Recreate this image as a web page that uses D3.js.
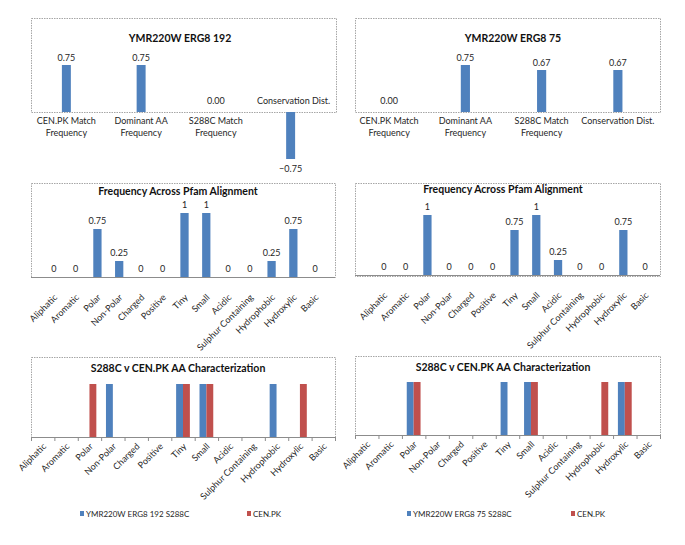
<!DOCTYPE html>
<html lang="en">
<head>
  <meta charset="UTF-8">
  <title>YMR220W ERG8 characterization</title>
  <script src="https://d3js.org/d3.v7.min.js"></script>
  <style>
    body { margin: 0; background: #fff; }
    svg { font-family: Lato, "Open Sans", sans-serif; }
    .box { fill: none; stroke: #a6a6a6; stroke-width: 1; stroke-dasharray: 1.5,1; }
    .axis-line { stroke: #8c8c8c; stroke-width: 1; }
    .title { font-weight: bold; font-size: 10.5px; fill: #111; text-anchor: middle; }
    .val { font-size: 9px; fill: #262626; text-anchor: middle; }
    .cat { font-size: 9px; fill: #262626; }
  </style>
</head>
<body>
  <svg id="chart" width="685" height="545"></svg>
  <script>
    // summary metrics (top row)
    const summaryCats = ["CEN.PK Match Frequency", "Dominant AA Frequency", "S288C Match Frequency", "Conservation Dist."];
    const summaryLines = [["CEN.PK Match", "Frequency"], ["Dominant AA", "Frequency"], ["S288C Match", "Frequency"], ["Conservation Dist."]];
    const summary192 = [0.75, 0.75, 0.00, -0.75];
    const summary75 = [0.00, 0.75, 0.67, 0.67];

    // amino acid classes (middle and bottom rows)
    const aaClasses = ["Aliphatic", "Aromatic", "Polar", "Non-Polar", "Charged", "Positive", "Tiny", "Small",
      "Acidic", "Sulphur Containing", "Hydrophobic", "Hydroxylic", "Basic"];
    const pfam192 = [0, 0, 0.75, 0.25, 0, 0, 1, 1, 0, 0, 0.25, 0.75, 0];
    const pfam75 = [0, 0, 1, 0, 0, 0, 0.75, 1, 0.25, 0, 0, 0.75, 0];

    const s288c192 = [0, 0, 0, 1, 0, 0, 1, 1, 0, 0, 1, 0, 0];
    const cenpk192 = [0, 0, 1, 0, 0, 0, 1, 1, 0, 0, 0, 1, 0];
    const s288c75 = [0, 0, 1, 0, 0, 0, 1, 1, 0, 0, 0, 1, 0];
    const cenpk75 = [0, 0, 1, 0, 0, 0, 0, 1, 0, 0, 1, 1, 0];

    const blue = "#4f81bd", red = "#c0504d";
    const svg = d3.select("#chart");

    function drawBox(b) {
      svg.append("rect").attr("class", "box")
        .attr("x", b[0] + 0.5).attr("y", b[1] + 0.5)
        .attr("width", b[2] - b[0]).attr("height", b[3] - b[1]);
    }

    // top row: 4 metrics, labels wrap below the axis
    function summaryChart(opt) {
      drawBox(opt.box);
      const x = d3.scaleBand().domain(summaryCats).range(opt.xr).paddingInner(0.88).paddingOuter(0.44);
      const y = d3.scaleLinear().domain([0, 0.75]).range([opt.zero, opt.zero - 47]);
      const g = svg.append("g");
      svg.append("text").attr("class", "title").attr("x", opt.titleX).attr("y", opt.box[1] + 24).text(opt.title);

      g.selectAll("rect").data(opt.values).join("rect")
        .attr("x", (d, i) => x(summaryCats[i]))
        .attr("width", x.bandwidth())
        .attr("y", d => Math.min(y(d), y(0)))
        .attr("height", d => Math.abs(y(d) - y(0)))
        .attr("fill", blue);

      g.selectAll("text.val").data(opt.values).join("text").attr("class", "val")
        .attr("x", (d, i) => x(summaryCats[i]) + x.bandwidth() / 2)
        .attr("y", d => d > 0 ? y(d) - 4 : d < 0 ? y(d) + 13 : y(0) - 8)
        .text(d => d3.format(".2f")(d));

      summaryCats.forEach((c, i) => {
        const neg = opt.values[i] < 0;
        const cx = x(c) + x.bandwidth() / 2 + (neg ? 3 : 0);
        const t = svg.append("text").attr("class", "cat").attr("text-anchor", "middle")
          .attr("x", cx)
          .attr("y", neg ? opt.zero - 8 : opt.zero + 12);
        summaryLines[i].forEach((ln, j) => t.append("tspan")
          .attr("x", cx).attr("dy", j ? 12 : 0).text(ln));
      });
    }

    // middle row: single series with value labels
    function pfamChart(opt) {
      drawBox(opt.box);
      const x = d3.scaleBand().domain(aaClasses).range(opt.xr).paddingInner(0.62).paddingOuter(0.31);
      const y = d3.scaleLinear().domain([0, 1]).range([opt.zero, opt.zero - opt.unit]);
      svg.append("text").attr("class", "title").attr("x", opt.titleX).attr("y", opt.titleY).text("Frequency Across Pfam Alignment");
      svg.append("line").attr("class", "axis-line")
        .attr("x1", opt.box[0]).attr("x2", opt.box[2]).attr("y1", opt.zero + 0.5).attr("y2", opt.zero + 0.5);

      svg.append("g").selectAll("rect").data(opt.values).join("rect")
        .attr("x", (d, i) => x(aaClasses[i]))
        .attr("width", x.bandwidth())
        .attr("y", d => y(d))
        .attr("height", d => y(0) - y(d))
        .attr("fill", blue);

      svg.append("g").selectAll("text").data(opt.values).join("text").attr("class", "val")
        .attr("x", (d, i) => x(aaClasses[i]) + x.bandwidth() / 2)
        .attr("y", d => y(d) - 5)
        .text(d => String(d));

      rotatedLabels(x, opt.zero + 21, 4);
    }

    function rotatedLabels(x, y0, dx) {
      svg.append("g").selectAll("text").data(aaClasses).join("text").attr("class", "cat")
        .attr("text-anchor", "end")
        .attr("transform", d => `translate(${x(d) + x.bandwidth() / 2 + dx},${y0}) rotate(-45)`)
        .text(d => d);
    }

    // bottom row: two series, no value labels, tick marks
    function compareChart(opt) {
      drawBox(opt.box);
      const x = d3.scaleBand().domain(aaClasses).range([opt.box[0], opt.box[2]]);
      const xs = d3.scaleBand().domain(["s288c", "cenpk"]).range([0, x.bandwidth()]).paddingOuter(0.7);
      const y = d3.scaleLinear().domain([0, 1]).range([opt.zero, opt.zero - 53]);
      svg.append("text").attr("class", "title").attr("x", opt.titleX).attr("y", opt.box[1] + 15).text("S288C v CEN.PK AA Characterization");

      const series = [["s288c", opt.s288c, blue], ["cenpk", opt.cenpk, red]];
      series.forEach(([key, vals, col]) => {
        svg.append("g").selectAll("rect").data(vals).join("rect")
          .attr("x", (d, i) => x(aaClasses[i]) + xs(key))
          .attr("width", xs.bandwidth())
          .attr("y", d => y(d))
          .attr("height", d => y(0) - y(d))
          .attr("fill", col);
      });

      const ax = svg.append("g").attr("transform", `translate(0,${opt.zero})`);
      ax.append("line").attr("class", "axis-line")
        .attr("x1", opt.box[0]).attr("x2", opt.box[2]).attr("y1", 0.5).attr("y2", 0.5);
      const edges = aaClasses.map(c => x(c)).concat([opt.box[2]]);
      ax.selectAll("line.tick").data(edges).join("line").attr("class", "axis-line")
        .attr("x1", d => d + 0.5).attr("x2", d => d + 0.5).attr("y1", 0).attr("y2", 4);

      rotatedLabels(x, opt.zero + 10, 4);

      // legend
      const lg = svg.append("g").attr("transform", `translate(0,${opt.legendY})`);
      [[opt.legendName, blue, opt.legendX[0]], ["CEN.PK", red, opt.legendX[1]]].forEach(([name, col, lx]) => {
        lg.append("rect").attr("x", lx).attr("y", -3).attr("width", 4).attr("height", 5).attr("fill", col);
        lg.append("text").attr("class", "cat").attr("x", lx + 6).attr("y", 3).style("font-size", "8px").text(name);
      });
    }

    summaryChart({ box: [31, 18, 336, 112], xr: [29, 328], zero: 112, title: "YMR220W ERG8 192", titleX: 180, values: summary192 });
    summaryChart({ box: [355, 18, 660, 112], xr: [351, 656], zero: 112, title: "YMR220W ERG8 75", titleX: 513, values: summary75 });

    pfamChart({ box: [31, 183, 335, 277], xr: [43, 326], zero: 277, unit: 64, titleX: 178, titleY: 195, values: pfam192 });
    pfamChart({ box: [355, 183, 660, 276], xr: [373, 656], zero: 275, unit: 60, titleX: 503, titleY: 193, values: pfam75 });

    compareChart({ box: [31, 357, 335, 437], zero: 437, titleX: 178, s288c: s288c192, cenpk: cenpk192,
      legendName: "YMR220W ERG8 192 S288C", legendY: 514, legendX: [80, 247] });
    compareChart({ box: [355, 356, 660, 435], zero: 435, titleX: 503, s288c: s288c75, cenpk: cenpk75,
      legendName: "YMR220W ERG8 75 S288C", legendY: 514, legendX: [407, 571] });
  </script>
</body>
</html>
